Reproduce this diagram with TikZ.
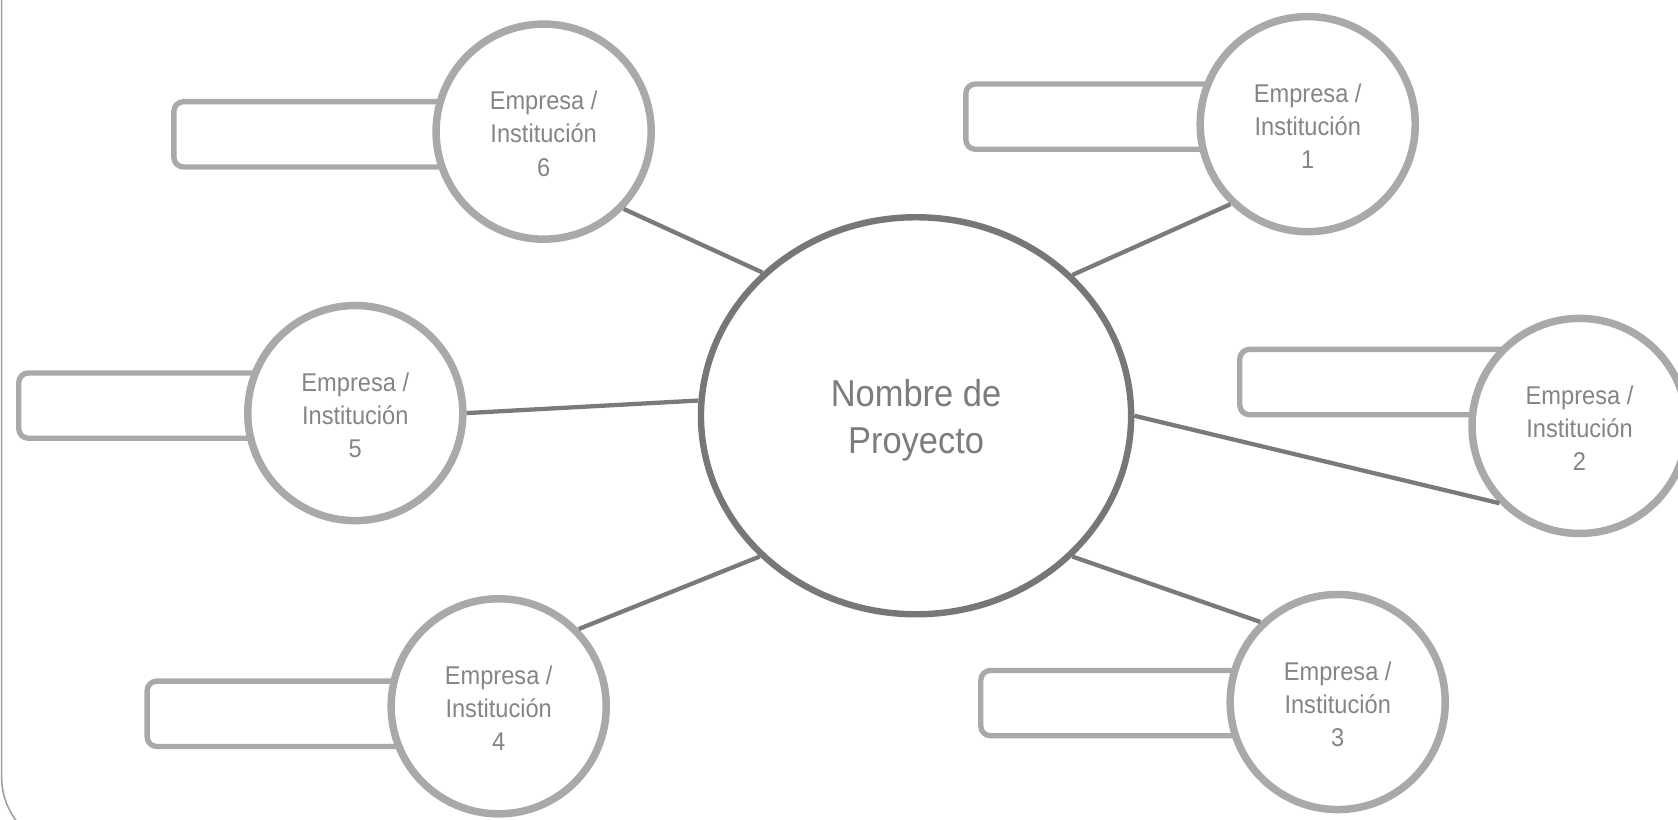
\documentclass[tikz,border=0pt]{standalone}
\usepackage{fontspec}
\setmainfont{Liberation Sans}[FakeStretch=0.92]
\usetikzlibrary{shapes.geometric}
\definecolor{cline}{HTML}{A9A9A9}
\definecolor{conn}{HTML}{7A7A7A}
\definecolor{ell}{HTML}{777777}
\definecolor{txt}{HTML}{858585}
\definecolor{ctxt}{HTML}{7C7C7C}
\definecolor{frm}{HTML}{A0A0A0}
\begin{document}
\begin{tikzpicture}[x=1pt,y=-1pt,
 firm/.style={circle, draw=cline, line width=7pt, fill=white, minimum size=201pt, inner sep=0pt},
 firmtext/.style={text=txt, font=\fontsize{24}{31}\selectfont, align=center, inner sep=0pt},
 slot/.style={rectangle, rounded corners=9pt, draw=cline, line width=5pt, fill=white, minimum height=61pt, inner sep=0pt},
 link/.style={draw=conn, line width=4pt},
 project/.style={ellipse, draw=ell, line width=6pt, fill=white, minimum width=402pt, minimum height=371pt, inner sep=0pt},
 projtext/.style={text=ctxt, font=\fontsize{35}{44}\selectfont, align=center, inner sep=0pt},
 frame/.style={draw=frm, line width=1.5pt, rounded corners=68pt}]
\clip (0,0) rectangle (1568,766);
\fill[white] (0,0) rectangle (1568,766);
\draw[frame] (1.5,-100) rectangle (1700,794);

% slots
\node[slot, minimum width=305.5pt] (r6) at (315.25,125.5) {};
\node[slot, minimum width=279.5pt] (r1) at (1042.25,109) {};
\node[slot, minimum width=277.5pt] (r2) at (1297.25,357) {};
\node[slot, minimum width=274.5pt] (r5) at (154.75,379) {};
\node[slot, minimum width=288.5pt] (r4) at (281.75,667) {};
\node[slot, minimum width=293.5pt] (r3) at (1063.25,657) {};

% firms
\node[firm] (c6) at (508,123) {};
\node[firm] (c1) at (1222,116) {};
\node[firm] (c2) at (1476,398) {};
\node[firm] (c5) at (332,386) {};
\node[firm] (c4) at (466,660) {};
\node[firm] (c3) at (1250,656) {};
\node[firmtext] (t6) at ([yshift=-2pt]c6.center) {Empresa /\\Institución\\6};
\node[firmtext] (t1) at ([yshift=-2pt]c1.center) {Empresa /\\Institución\\1};
\node[firmtext] (t2) at ([yshift=-2pt]c2.center) {Empresa /\\Institución\\2};
\node[firmtext] (t5) at ([yshift=-2pt]c5.center) {Empresa /\\Institución\\5};
\node[firmtext] (t4) at ([yshift=-2pt]c4.center) {Empresa /\\Institución\\4};
\node[firmtext] (t3) at ([yshift=-2pt]c3.center) {Empresa /\\Institución\\3};

% project
\node[project] (p) at (856,388.5) {};
\node[projtext] (pt) at ([yshift=-4pt]p.center) {Nombre de\\Proyecto};

% links
\draw[link] (p.137.2) -- (c6.-44.6);
\draw[link] (p.42.4) -- (c1.-134.2);
\draw[link] (p.0) -- (c2.224.6);
\draw[link] (p.176.5) -- (c5.0.5);
\draw[link] (p.222.4) -- (c4.44.2);
\draw[link] (p.-42) -- (c3.134.6);
\end{tikzpicture}
\end{document}
